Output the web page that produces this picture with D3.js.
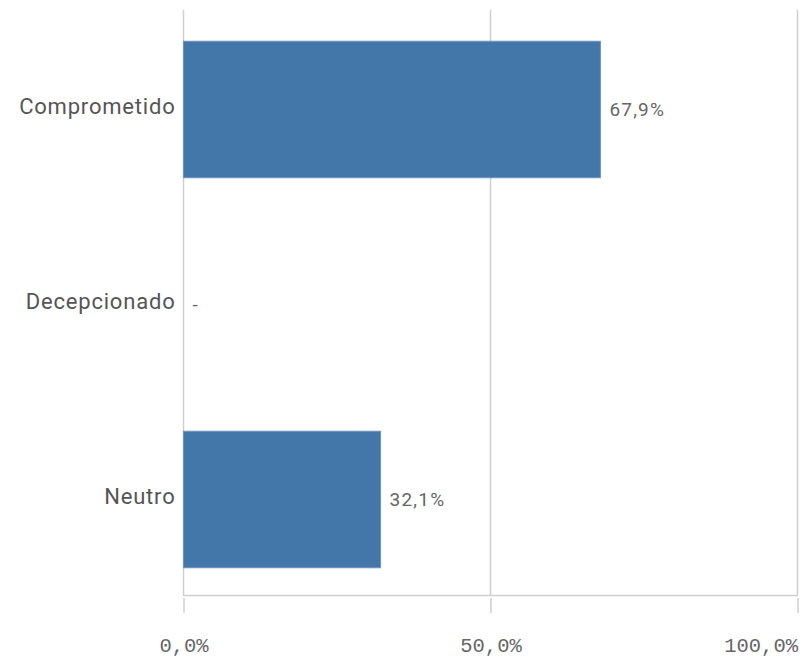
<!DOCTYPE html>
<html><head><meta charset="utf-8">
<script src="https://cdn.jsdelivr.net/npm/d3@7"></script>
<style>body{margin:0;background:#fff}</style>
</head><body><svg id="c" width="800" height="657"></svg>
<script>
const categories = ["Comprometido", "Decepcionado", "Neutro"];
const values = [67.9, 0, 32.1];
const valueLabels = ["67,9%", "-", "32,1%"];
const tickValues = [0, 50, 100];
const tickLabels = ["0,0%", "50,0%", "100,0%"];

const svg = d3.select("#c");
const x = d3.scaleLinear().domain([0, 100]).range([183.5, 797.5]);
const y = d3.scaleBand().domain(categories).range([12, 597]).paddingInner(0.3).paddingOuter(0.15);

// gridlines
svg.append("g").selectAll("line").data(tickValues).join("line")
  .attr("x1", d => x(d)).attr("x2", d => x(d))
  .attr("y1", 10).attr("y2", 596)
  .attr("stroke", "#cfcfcf").attr("stroke-width", 1.5);
// baseline
svg.append("line").attr("x1", x(0)).attr("x2", x(100)).attr("y1", 595.5).attr("y2", 595.5)
  .attr("stroke", "#cfcfcf").attr("stroke-width", 1.5);

// x axis
const xAxis = d3.axisBottom(x).tickValues(tickValues).tickSize(15)
  .tickFormat((d, i) => tickLabels[i]);
const gx = svg.append("g").attr("transform", "translate(0,598)").call(xAxis);
gx.select(".domain").remove();
gx.selectAll(".tick line").attr("stroke", "#cfcfcf").attr("stroke-width", 1.5);
gx.selectAll(".tick text").attr("fill", "#666").attr("font-family", "Liberation Mono")
  .attr("font-size", 20.5).attr("dy", 0).attr("y", 54);
gx.selectAll(".tick text").filter((d) => d === 100).attr("text-anchor", "end").attr("dx", 0).attr("x", 0);

// y axis labels
const yAxis = d3.axisLeft(y).tickSize(0).tickPadding(8);
const gy = svg.append("g").attr("transform", `translate(${x(0)},0)`).call(yAxis);
gy.select(".domain").remove();
gy.selectAll(".tick text").attr("fill", "#555").attr("font-family", "Roboto").attr("font-size", 22)
  .attr("letter-spacing", 0.8).attr("dy", "0.2em");

// bars
svg.append("g").selectAll("rect").data(categories).join("rect")
  .attr("x", x(0)).attr("y", d => y(d))
  .attr("width", (d, i) => x(values[i]) - x(0))
  .attr("height", y.bandwidth())
  .attr("fill", "#4477a9").attr("stroke", "#6d93bf").attr("stroke-width", (d, i) => values[i] > 0 ? 1 : 0);

// value labels
svg.append("g").selectAll("text").data(categories).join("text")
  .attr("x", (d, i) => x(values[i]) + 9)
  .attr("y", d => y(d) + y.bandwidth() / 2)
  .attr("dy", "0.35em")
  .attr("fill", "#666").attr("font-family", "Roboto").attr("font-size", 19).attr("letter-spacing", 1.2)
  .text((d, i) => valueLabels[i]);
</script></body></html>
